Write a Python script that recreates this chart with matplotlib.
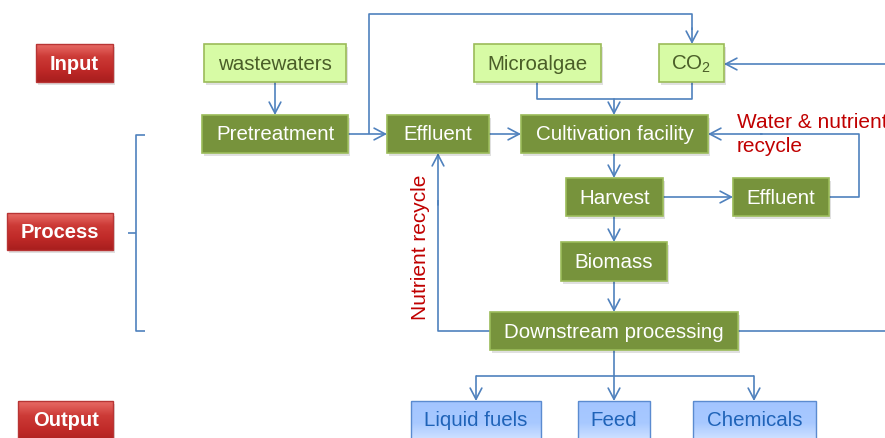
import matplotlib
matplotlib.use("Agg")
import matplotlib.pyplot as plt
import numpy as np
from matplotlib.patches import Rectangle
from matplotlib.colors import LinearSegmentedColormap

plt.rcParams['font.family'] = ['Liberation Sans', 'DejaVu Sans']
plt.rcParams['mathtext.fontset'] = 'custom'
plt.rcParams['mathtext.rm'] = 'Liberation Sans'
plt.rcParams['mathtext.it'] = 'Liberation Sans'

# ---- content ----
stage_labels = ["Input", "Process", "Output"]
input_labels = ["wastewaters", "Microalgae", "CO$_2$"]
process_labels = ["Pretreatment", "Effluent", "Cultivation facility", "Harvest",
                  "Effluent", "Biomass", "Downstream processing"]
output_labels = ["Liquid fuels", "Feed", "Chemicals"]
annot_labels = ["Water & nutrient", "recycle", "Nutrient recycle"]

# ---- layout (pixel coords: x0, y0, x1, y1) ----
stage_boxes = [(36, 44, 113, 82), (7, 213, 113, 250), (18, 401, 113, 445)]
input_boxes = [(204, 44, 346, 82), (474, 44, 601, 82), (659, 44, 724, 82)]
process_boxes = [(202, 115, 348, 153), (387, 115, 489, 153), (521, 115, 708, 153),
                 (566, 178, 663, 216), (733, 178, 829, 216), (561, 242, 667, 281),
                 (490, 312, 738, 350)]
output_boxes = [(411, 401, 541, 445), (578, 401, 650, 445), (693, 401, 816, 445)]

LINE = '#4F81BD'
DARKG = '#77933C'
DARKG_E = '#9BBB59'
LIGHTG = '#D7FBA5'
LIGHTG_E = '#9BBB59'
RED = '#C00000'

fig = plt.figure(figsize=(8.85, 4.38), dpi=100)
ax = fig.add_axes([0, 0, 1, 1])
ax.set_xlim(0, 885)
ax.set_ylim(438, 0)
ax.axis('off')


def shadow(b):
    x0, y0, x1, y1 = b
    ax.add_patch(Rectangle((x0 + 2, y0 + 3), x1 - x0, y1 - y0, facecolor='#000000',
                           alpha=0.12, edgecolor='none', zorder=2))


def gradient_box(b, colors, edge, z=3):
    x0, y0, x1, y1 = b
    cmap = LinearSegmentedColormap.from_list('g', colors)
    grad = np.linspace(0, 1, 64).reshape(-1, 1)
    im = ax.imshow(grad, extent=(x0, x1, y1, y0), cmap=cmap, aspect='auto', zorder=z,
                   interpolation='bilinear')
    r = Rectangle((x0, y0), x1 - x0, y1 - y0, facecolor='none', edgecolor=edge, lw=1.0, zorder=z + 0.5)
    ax.add_patch(r)
    im.set_clip_path(r)


def flat_box(b, fc, ec, z=3):
    x0, y0, x1, y1 = b
    ax.add_patch(Rectangle((x0, y0), x1 - x0, y1 - y0, facecolor=fc, edgecolor=ec, lw=1.2, zorder=z))


def center(b):
    return ((b[0] + b[2]) / 2, (b[1] + b[3]) / 2)


# stage boxes (red)
for lab, b in zip(stage_labels, stage_boxes):
    shadow(b)
    gradient_box(b, ['#E86B66', '#CC3A36', '#C02A28', '#A81E1E'], '#B83535')
    cx, cy = center(b)
    if lab == "Output":
        cy = 420
    ax.text(cx, cy + 1, lab, color='white', fontsize=14.5, fontweight='bold',
            ha='center', va='center', zorder=5)

# input boxes
for lab, b in zip(input_labels, input_boxes):
    shadow(b)
    flat_box(b, LIGHTG, LIGHTG_E)
    cx, cy = center(b)
    ax.text(cx, cy + 1, lab, color='#4A5E28', fontsize=14.8, ha='center', va='center', zorder=5)

# process boxes
for lab, b in zip(process_labels, process_boxes):
    shadow(b)
    flat_box(b, DARKG, DARKG_E)
    cx, cy = center(b)
    ax.text(cx, cy + 1, lab, color='white', fontsize=14.8, ha='center', va='center', zorder=5)

# output boxes
for lab, b in zip(output_labels, output_boxes):
    gradient_box(b, ['#A3C5FF', '#A8C9FF', '#DCE9FF'], '#5B8BD0')
    ax.text((b[0] + b[2]) / 2, 421, lab, color='#1F63B8', fontsize=14.8, ha='center', va='center', zorder=5)


def line(xs, ys):
    ax.plot(xs, ys, color=LINE, lw=1.2, solid_capstyle='butt', zorder=1)


def arrow(p0, p1):
    ax.annotate('', xy=p1, xytext=p0,
                arrowprops=dict(arrowstyle='->,head_length=0.8,head_width=0.42',
                                color=LINE, lw=1.2, shrinkA=0, shrinkB=0,
                                mutation_scale=10), zorder=1)


# bracket
line([145, 136, 136, 145], [135, 135, 331, 331])
line([128, 136], [233, 233])

# wastewaters -> pretreatment
arrow((275, 82), (275, 115))
# pretreatment -> effluent
arrow((348, 134), (387, 134))
# loop up to CO2
line([369, 369, 692, 692], [134, 14, 14, 30])
arrow((692, 28), (692, 44))
# microalgae + CO2 -> cultivation
line([537, 537, 692, 692], [82, 99, 99, 82])
arrow((614, 99), (614, 115))
# effluent -> cultivation
arrow((489, 134), (521, 134))
# right side -> CO2
arrow((885, 64), (724, 64))
# cultivation -> harvest
arrow((614, 153), (614, 178))
# harvest -> effluent
arrow((663, 197), (733, 197))
# effluent -> cultivation (recycle)
line([829, 859, 859, 760], [197, 197, 134, 134])
arrow((762, 134), (708, 134))
# harvest -> biomass
arrow((614, 216), (614, 242))
# biomass -> downstream
arrow((614, 281), (614, 312))
# downstream -> effluent (nutrient recycle)
line([490, 438, 438], [331, 331, 200])
arrow((438, 205), (438, 153))
# downstream -> right
line([738, 885], [331, 331])
# downstream -> outputs
line([614, 614], [350, 376])
line([476, 754], [376, 376])
for xo in [476, 614, 754]:
    arrow((xo, 376), (xo, 401))

# annotations
ax.text(737, 122, annot_labels[0], color=RED, fontsize=15, ha='left', va='center', zorder=5)
ax.text(737, 147, annot_labels[1], color=RED, fontsize=15, ha='left', va='center', zorder=5)
ax.text(420, 247, annot_labels[2], color=RED, fontsize=15, rotation=90,
        ha='center', va='center', zorder=5)

fig.savefig('out.png', dpi=100)
